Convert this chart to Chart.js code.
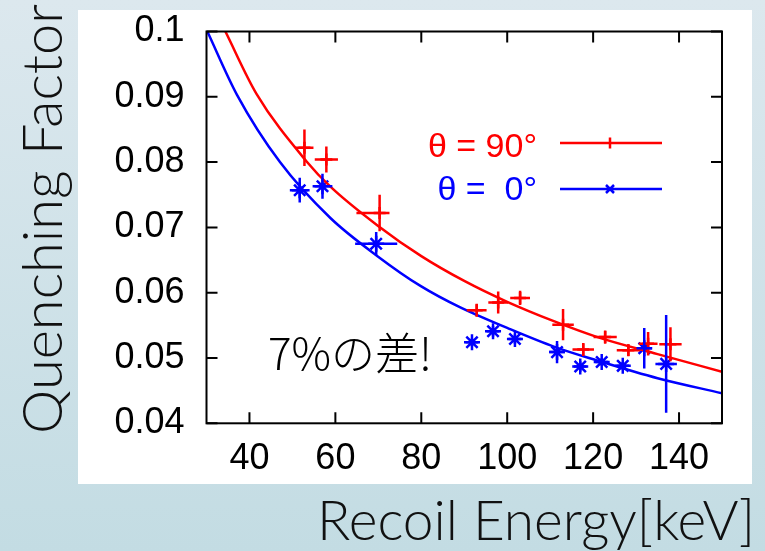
<!DOCTYPE html>
<html>
<head>
<meta charset="utf-8">
<script src="https://cdn.jsdelivr.net/npm/chart.js@4.4.1/dist/chart.umd.min.js"></script>
<style>
  html, body { margin: 0; padding: 0; }
  body { width: 765px; height: 551px; overflow: hidden; }
  canvas { display: block; }
</style>
</head>
<body>
<canvas id="qfChart" width="765" height="551"></canvas>
<script>
// Axis ticks
const xTicks = [40, 60, 80, 100, 120, 140];
const yTicks = [0.04, 0.05, 0.06, 0.07, 0.08, 0.09, 0.1];
const yTickLabels = ['0.04', '0.05', '0.06', '0.07', '0.08', '0.09', '0.1'];

// theta = 90 deg: recoil energy [keV], quenching factor and errors
const e90 = [52.8, 57.9, 70.3, 92.9, 97.9, 103.0, 113.0, 117.7, 122.8, 128.2, 132.8, 138.0];
const q90 = [0.0822, 0.0804, 0.0722, 0.0573, 0.0585, 0.0592, 0.0551, 0.0513, 0.0532, 0.0512, 0.0522, 0.0521];
const e90Lo = [2.1, 2.7, 5.4, 2.3, 2.3, 2.3, 2.5, 2.5, 2.7, 2.7, 2.2, 2.6];
const e90Hi = [2.1, 2.7, 2.3, 2.3, 2.3, 2.3, 2.5, 2.5, 2.7, 2.7, 2.2, 2.6];
const q90Err = [0.0028, 0.0020, 0.0028, 0.0010, 0.0017, 0.0011, 0.0024, 0.0010, 0.0010, 0.0009, 0.0018, 0.0026];

// theta = 0 deg
const e0 = [51.7, 57.0, 69.5, 91.8, 96.7, 101.8, 111.6, 117.0, 122.0, 126.9, 131.9, 137.0];
const q0 = [0.0757, 0.0763, 0.0675, 0.0524, 0.0541, 0.0529, 0.0509, 0.0487, 0.0494, 0.0488, 0.0515, 0.0491];
const e0Err = [2.3, 2.3, 4.9, 1.5, 1.5, 1.5, 1.8, 1.5, 1.5, 1.5, 1.8, 2.5];
const q0Err = [0.0019, 0.0019, 0.0018, 0.0006, 0.0008, 0.0007, 0.0017, 0.0008, 0.0006, 0.0006, 0.0031, 0.0075];

// fitted curves
const fit90E = [34.4, 41.6, 53.3, 58.9, 69.8, 80.0, 90.0, 100.0, 111.0, 121.0, 135.0, 150.0];
const fit90Q = [0.100, 0.0905, 0.0801, 0.0762, 0.0703, 0.0656, 0.0618, 0.0586, 0.0556, 0.0532, 0.0506, 0.0479];
const fit0E = [30.2, 37.1, 47.1, 58.9, 69.8, 79.9, 89.2, 100.0, 111.0, 121.0, 135.0, 150.0];
const fit0Q = [0.100, 0.0903, 0.0800, 0.0714, 0.0656, 0.0610, 0.0577, 0.0546, 0.0517, 0.0496, 0.0469, 0.0446];

const RED = '#ff0000';
const BLUE = '#0000ff';

const toPoints = (xs, ys) => xs.map((v, i) => ({ x: v, y: ys[i] }));

const errorTable = {
  red: e90.map((v, i) => ({ xlo: e90Lo[i], xhi: e90Hi[i], dy: q90Err[i] })),
  blue: e0.map((v, i) => ({ xlo: e0Err[i], xhi: e0Err[i], dy: q0Err[i] }))
};

// page background and the white plot panel
const backdrop = {
  id: 'backdrop',
  beforeDraw(chart) {
    const ctx = chart.ctx;
    const g = ctx.createLinearGradient(0, 0, 0, chart.height);
    g.addColorStop(0, '#dce8ee');
    g.addColorStop(1, '#c3dce3');
    ctx.save();
    ctx.fillStyle = g;
    ctx.fillRect(0, 0, chart.width, chart.height);
    ctx.fillStyle = '#ffffff';
    ctx.fillRect(78, 10, 674, 474);
    ctx.restore();
  }
};

// xy error bars, drawn through the scales
const errorBars = {
  id: 'errorBars',
  afterDatasetsDraw(chart) {
    const { ctx, chartArea: a, scales: { x, y } } = chart;
    ctx.save();
    ctx.beginPath();
    ctx.rect(a.left, a.top, a.right - a.left, a.bottom - a.top);
    ctx.clip();
    ctx.lineWidth = 2.5;
    chart.data.datasets.forEach(ds => {
      const errs = errorTable[ds.errKey];
      if (!errs) return;
      ctx.strokeStyle = ds.borderColor;
      ds.data.forEach((p, i) => {
        const e = errs[i];
        const px = x.getPixelForValue(p.x), py = y.getPixelForValue(p.y);
        ctx.beginPath();
        ctx.moveTo(x.getPixelForValue(p.x - e.xlo), py);
        ctx.lineTo(x.getPixelForValue(p.x + e.xhi), py);
        ctx.moveTo(px, y.getPixelForValue(p.y - e.dy));
        ctx.lineTo(px, y.getPixelForValue(p.y + e.dy));
        ctx.stroke();
      });
    });
    ctx.restore();
  }
};

// border box with inward ticks on all four sides
const frame = {
  id: 'frame',
  afterDraw(chart) {
    const { ctx, chartArea: a, scales: { x, y } } = chart;
    const len = 11;
    ctx.save();
    ctx.strokeStyle = '#000';
    ctx.lineWidth = 2;
    ctx.beginPath();
    xTicks.forEach(v => {
      const px = x.getPixelForValue(v);
      ctx.moveTo(px, a.bottom); ctx.lineTo(px, a.bottom - len);
      ctx.moveTo(px, a.top); ctx.lineTo(px, a.top + len);
    });
    yTicks.forEach(v => {
      const py = y.getPixelForValue(v);
      ctx.moveTo(a.left, py); ctx.lineTo(a.left + len, py);
      ctx.moveTo(a.right, py); ctx.lineTo(a.right - len, py);
    });
    ctx.stroke();
    ctx.strokeRect(a.left, a.top, a.right - a.left, a.bottom - a.top);
    ctx.restore();
  }
};

// key, note and axis titles
const labels = {
  id: 'labels',
  afterDraw(chart) {
    const ctx = chart.ctx;
    ctx.save();

    // key
    ctx.font = '34px "Liberation Sans", Arial, sans-serif';
    ctx.textAlign = 'right';
    ctx.textBaseline = 'alphabetic';
    ctx.fillStyle = RED;
    ctx.fillText('θ = 90°', 537, 157);
    ctx.fillStyle = BLUE;
    ctx.fillText('θ =  0°', 537, 200);

    ctx.lineWidth = 2.5;
    ctx.strokeStyle = RED;
    ctx.beginPath();
    ctx.moveTo(560, 143); ctx.lineTo(662, 143);
    ctx.moveTo(610, 137.5); ctx.lineTo(610, 148.5);
    ctx.stroke();
    ctx.strokeStyle = BLUE;
    ctx.beginPath();
    ctx.moveTo(560, 189); ctx.lineTo(662, 189);
    ctx.moveTo(606, 185); ctx.lineTo(614, 193);
    ctx.moveTo(606, 193); ctx.lineTo(614, 185);
    ctx.stroke();

    // note
    ctx.fillStyle = '#000';
    ctx.textAlign = 'left';
    ctx.font = '300 44px "Noto Sans CJK JP", sans-serif';
    ctx.fillText('7%の差!', 268, 370);

    // axis titles
    ctx.fillStyle = '#111';
    ctx.font = '300 55px Lato, "Open Sans", sans-serif';
    ctx.textAlign = 'right';
    ctx.fillText('Recoil Energy[keV]', 755, 540);

    ctx.translate(62, 219);
    ctx.rotate(-Math.PI / 2);
    ctx.textAlign = 'center';
    ctx.font = '300 56px Lato, "Open Sans", sans-serif';
    ctx.fillText('Quenching Factor', 0, 0);
    ctx.restore();
  }
};

new Chart(document.getElementById('qfChart'), {
  type: 'scatter',
  data: {
    datasets: [
      {
        label: 'fit 90',
        data: toPoints(fit90E, fit90Q),
        showLine: true,
        borderColor: RED,
        borderWidth: 2.5,
        pointRadius: 0,
        cubicInterpolationMode: 'monotone'
      },
      {
        label: 'fit 0',
        data: toPoints(fit0E, fit0Q),
        showLine: true,
        borderColor: BLUE,
        borderWidth: 2.5,
        pointRadius: 0,
        cubicInterpolationMode: 'monotone'
      },
      {
        label: 'θ = 90°',
        errKey: 'red',
        data: toPoints(e90, q90),
        borderColor: RED,
        backgroundColor: RED,
        pointStyle: 'cross',
        pointRadius: 6,
        borderWidth: 2.5
      },
      {
        label: 'θ = 0°',
        errKey: 'blue',
        data: toPoints(e0, q0),
        borderColor: BLUE,
        backgroundColor: BLUE,
        pointStyle: 'star',
        pointRadius: 8,
        borderWidth: 2.5
      }
    ]
  },
  options: {
    responsive: false,
    animation: false,
    devicePixelRatio: 1,
    layout: { padding: { left: 0, top: 31.5, right: 43, bottom: 0 } },
    plugins: { legend: { display: false }, tooltip: { enabled: false } },
    scales: {
      x: {
        type: 'linear',
        min: 30,
        max: 150,
        grid: { display: false, drawTicks: false },
        border: { display: false },
        afterBuildTicks: s => { s.ticks = xTicks.map(v => ({ value: v })); },
        afterFit: s => { s.height = 127.7; s.paddingLeft = 0; s.paddingRight = 0; },
        ticks: {
          color: '#000',
          padding: 14,
          maxRotation: 0,
          font: { family: '"Liberation Sans", Arial, sans-serif', size: 36 }
        }
      },
      y: {
        type: 'linear',
        min: 0.04,
        max: 0.1,
        grid: { display: false, drawTicks: false },
        border: { display: false },
        afterBuildTicks: s => { s.ticks = yTicks.map(v => ({ value: v })); },
        afterFit: s => { s.width = 206.5; s.paddingTop = 0; s.paddingBottom = 0; },
        ticks: {
          color: '#000',
          padding: 22,
          font: { family: '"Liberation Sans", Arial, sans-serif', size: 36 },
          callback: (v, i) => yTickLabels[i]
        }
      }
    }
  },
  plugins: [backdrop, errorBars, frame, labels]
});
</script>
</body>
</html>
